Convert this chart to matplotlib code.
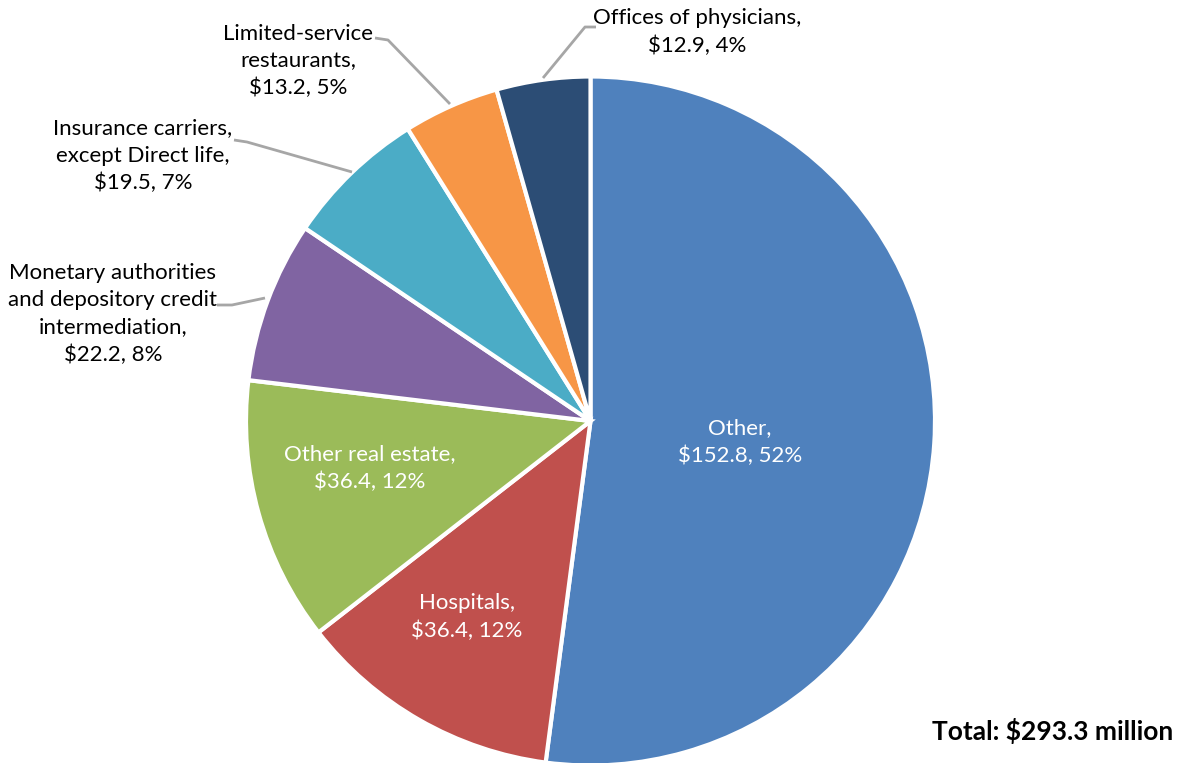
import matplotlib.pyplot as plt

plt.rcParams['font.family'] = ['Lato', 'DejaVu Sans']

# slices, clockwise from 12 o'clock
names = ["Other,", "Hospitals,", "Other real estate,",
         "Monetary authorities\nand depository credit\nintermediation,",
         "Insurance carriers,\nexcept Direct life,",
         "Limited-service\nrestaurants,", "Offices of physicians,"]
values = [152.8, 36.4, 36.4, 22.2, 19.5, 13.2, 12.9]
pcts = [52, 12, 12, 8, 7, 5, 4]
colors = ["#4F81BD", "#C0504D", "#9BBB59", "#8064A2", "#4BACC6", "#F79646", "#2C4D75"]
total = 293.3

W, H = 1183, 763
fig = plt.figure(figsize=(W / 100, H / 100), dpi=100)
ax = fig.add_axes([0, 0, 1, 1])

cx, cy, r = 590.5, H - 421, 344.5
ax.pie(values, colors=colors, startangle=90, counterclock=False,
       center=(cx, cy), radius=r, frame=True,
       wedgeprops=dict(edgecolor="white", linewidth=3))
ax.set_xlim(0, W)
ax.set_ylim(0, H)
ax.set_aspect("equal")
ax.axis("off")


def lab(i):
    return "%s\n$%.1f, %d%%" % (names[i], values[i], pcts[i])


fs = 16
ls = 1.45
# inside labels (white)
inside = {0: (740, 442), 1: (467, 617), 2: (370, 468)}
for i, (x, y) in inside.items():
    ax.text(x, H - y, lab(i), color="white", ha="center", va="center",
            fontsize=fs, linespacing=ls)

# outside labels with leader lines: text center, line points (pixel coords)
outside = {
    3: ((113, 314), [(217, 305), (232, 305), (265, 298)]),
    4: ((143, 156), [(234, 140), (247, 142), (352, 172)]),
    5: ((298, 61), [(375, 38), (388, 40), (450, 104)]),
    6: ((697, 32), [(596, 27), (585, 27), (543, 78)]),
}
for i, ((x, y), pts) in outside.items():
    ax.text(x, H - y, lab(i), color="black", ha="center", va="center",
            fontsize=fs, linespacing=ls)
    ax.plot([p[0] for p in pts], [H - p[1] for p in pts],
            color="#A6A6A6", linewidth=2, solid_capstyle="butt")

ax.text(1173, H - 731, "Total: $%.1f million" % total, ha="right", va="center",
        fontsize=19, fontweight="bold")

fig.savefig("out.png", dpi=100)
